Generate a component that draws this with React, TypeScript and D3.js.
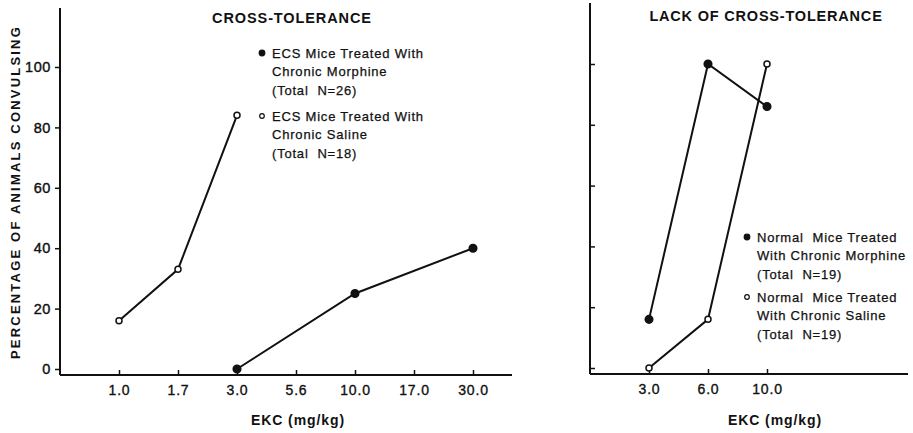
import React, { useEffect, useRef } from 'react';
import * as d3 from 'd3';

// dose categories on each x axis
const leftDoses = ['1.0', '1.7', '3.0', '5.6', '10.0', '17.0', '30.0'];
const rightDoses = ['3.0', '6.0', '10.0'];
const yTicks = [0, 20, 40, 60, 80, 100];

// cross-tolerance panel
const ecsMorphineDoses = ['3.0', '10.0', '30.0'];
const ecsMorphinePct = [0, 25, 40];
const ecsSalineDoses = ['1.0', '1.7', '3.0'];
const ecsSalinePct = [16, 33, 84];

// lack of cross-tolerance panel
const normalMorphineDoses = ['3.0', '6.0', '10.0'];
const normalMorphinePct = [16, 100, 86];
const normalSalineDoses = ['3.0', '6.0', '10.0'];
const normalSalinePct = [0, 16, 100];

const leftLegend = [
  { filled: true, lines: ['ECS Mice Treated With', 'Chronic Morphine', '(Total  N=26)'] },
  { filled: false, lines: ['ECS Mice Treated With', 'Chronic Saline', '(Total  N=18)'] },
];
const rightLegend = [
  { filled: true, lines: ['Normal  Mice Treated', 'With Chronic Morphine', '(Total  N=19)'] },
  { filled: false, lines: ['Normal  Mice Treated', 'With Chronic Saline', '(Total  N=19)'] },
];

const FONT = '"Liberation Sans", Arial, sans-serif';

const App: React.FC = () => {
  const svgRef = useRef<SVGSVGElement>(null);

  useEffect(() => {
    if (!svgRef.current) return;
    const svg = d3.select(svgRef.current);
    svg.selectAll('*').remove();

    const step = 59;

    const drawPanel = (opts: {
      axisX: number;
      axisRight: number;
      axisY: number;
      top: number;
      zeroY: number;
      hundredY: number;
      doses: string[];
      showYLabels: boolean;
      yTickDir: number;
    }) => {
      const g = svg.append('g');
      const x = d3
        .scalePoint<string>()
        .domain(opts.doses)
        .range([opts.axisX + step, opts.axisX + step * opts.doses.length]);
      const y = d3.scaleLinear().domain([0, 100]).range([opts.zeroY, opts.hundredY]);

      // axis lines
      g.append('line')
        .attr('x1', opts.axisX)
        .attr('x2', opts.axisX)
        .attr('y1', opts.top)
        .attr('y2', opts.axisY)
        .attr('stroke', '#111')
        .attr('stroke-width', 2);
      g.append('line')
        .attr('x1', opts.axisX)
        .attr('x2', opts.axisRight)
        .attr('y1', opts.axisY)
        .attr('y2', opts.axisY)
        .attr('stroke', '#111')
        .attr('stroke-width', 2.2);

      const xAxis = g
        .append('g')
        .attr('transform', `translate(0,${opts.axisY})`)
        .call(d3.axisBottom(x).tickSizeInner(-5).tickSizeOuter(0).tickPadding(10));
      xAxis.select('.domain').remove();
      xAxis.selectAll('line').attr('stroke', '#111').attr('stroke-width', 1.5);
      xAxis
        .selectAll('text')
        .attr('font-family', FONT)
        .attr('font-size', 14)
        .attr('letter-spacing', 0.8)
        .attr('stroke', '#111')
        .attr('stroke-width', 0.35)
        .attr('fill', '#111');

      const yAxis = g
        .append('g')
        .attr('transform', `translate(${opts.axisX},0)`)
        .call(
          d3
            .axisLeft(y)
            .tickValues(yTicks)
            .tickSizeInner(opts.yTickDir * 5)
            .tickSizeOuter(0)
            .tickPadding(opts.showYLabels ? 4 : 0)
            .tickFormat((d) => (opts.showYLabels ? String(d) : ''))
        );
      yAxis.select('.domain').remove();
      yAxis.selectAll('line').attr('stroke', '#111').attr('stroke-width', 1.5);
      yAxis
        .selectAll('text')
        .attr('font-family', FONT)
        .attr('font-size', 14.5)
        .attr('letter-spacing', 0.6)
        .attr('stroke', '#111')
        .attr('stroke-width', 0.4)
        .attr('fill', '#111');

      return { g, x, y };
    };

    const drawSeries = (
      g: d3.Selection<SVGGElement, unknown, null, undefined>,
      x: d3.ScalePoint<string>,
      y: d3.ScaleLinear<number, number>,
      doses: string[],
      pct: number[],
      filled: boolean
    ) => {
      const pts = doses.map((d, i) => [x(d)!, y(pct[i])] as [number, number]);
      g.append('path')
        .attr('d', d3.line()(pts))
        .attr('fill', 'none')
        .attr('stroke', '#111')
        .attr('stroke-width', 2);
      g.selectAll(null)
        .data(pts)
        .enter()
        .append('circle')
        .attr('cx', (p) => p[0])
        .attr('cy', (p) => p[1])
        .attr('r', filled ? 3.8 : 3)
        .attr('fill', filled ? '#111' : '#fff')
        .attr('stroke', '#111')
        .attr('stroke-width', 1.5);
    };

    const drawLegend = (
      g: d3.Selection<SVGGElement, unknown, null, undefined>,
      items: { filled: boolean; lines: string[] }[],
      dotX: number,
      startY: number,
      groupGap: number
    ) => {
      items.forEach((it, k) => {
        const cy = startY + k * groupGap;
        g.append('circle')
          .attr('cx', dotX)
          .attr('cy', cy)
          .attr('r', it.filled ? 2.8 : 2.3)
          .attr('fill', it.filled ? '#111' : '#fff')
          .attr('stroke', '#111')
          .attr('stroke-width', 1.2);
        it.lines.forEach((line, j) => {
          g.append('text')
            .attr('x', dotX + 10)
            .attr('y', cy + j * 18.5)
            .attr('dy', '0.35em')
            .attr('font-family', FONT)
            .attr('font-size', 13)
            .attr('letter-spacing', 0.8)
            .attr('stroke', '#111')
            .attr('stroke-width', 0.25)
            .attr('fill', '#111')
            .style('white-space', 'pre')
            .text(line);
        });
      });
    };

    const left = drawPanel({
      axisX: 60,
      axisRight: 512,
      axisY: 375,
      top: 8,
      zeroY: 369,
      hundredY: 67,
      doses: leftDoses,
      showYLabels: true,
      yTickDir: 1,
    });
    drawSeries(left.g, left.x, left.y, ecsSalineDoses, ecsSalinePct, false);
    drawSeries(left.g, left.x, left.y, ecsMorphineDoses, ecsMorphinePct, true);
    drawLegend(left.g, leftLegend, 262, 53, 63);

    const right = drawPanel({
      axisX: 590,
      axisRight: 908,
      axisY: 374,
      top: 3,
      zeroY: 368,
      hundredY: 64,
      doses: rightDoses,
      showYLabels: false,
      yTickDir: -1,
    });
    drawSeries(right.g, right.x, right.y, normalMorphineDoses, normalMorphinePct, true);
    drawSeries(right.g, right.x, right.y, normalSalineDoses, normalSalinePct, false);
    drawLegend(right.g, rightLegend, 747, 237, 60);

    const addText = (
      txt: string,
      x: number,
      y: number,
      size: number,
      spacing: number,
      rotate = false
    ) => {
      svg
        .append('text')
        .attr('x', x)
        .attr('y', y)
        .attr('dy', '0.35em')
        .attr('text-anchor', 'middle')
        .attr('font-family', FONT)
        .attr('font-weight', 'bold')
        .attr('font-size', size)
        .attr('letter-spacing', spacing)
        .attr('fill', '#111')
        .attr('transform', rotate ? `rotate(-90,${x},${y})` : null)
        .text(txt);
    };

    addText('CROSS-TOLERANCE', 292, 18, 14.5, 0.9);
    addText('LACK OF CROSS-TOLERANCE', 766, 16, 14.5, 0.8);
    addText('EKC (mg/kg)', 298, 420, 14, 0.9);
    addText('EKC (mg/kg)', 775, 420, 14, 0.9);
    addText('PERCENTAGE OF ANIMALS CONVULSING', 15, 192, 13, 2.2, true);
  }, []);

  return (
    <div style={{ position: 'absolute', left: 0, top: 0, background: '#fff' }}>
      <svg ref={svgRef} width={913} height={433} />
    </div>
  );
};

export default App;
